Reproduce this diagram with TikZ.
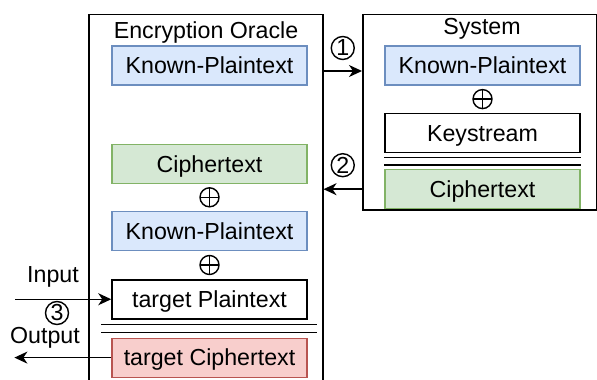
\documentclass[tikz,border=0pt]{standalone}
\usepackage{fontspec}
\setmainfont{Liberation Sans}
\usetikzlibrary{arrows.meta,positioning,calc}

\definecolor{blueFill}{HTML}{DAE8FC}
\definecolor{blueLine}{HTML}{6C8EBF}
\definecolor{greenFill}{HTML}{D5E8D4}
\definecolor{greenLine}{HTML}{82B366}
\definecolor{redFill}{HTML}{F8CECC}
\definecolor{redLine}{HTML}{B85450}

\tikzset{
  block/.style={draw, line width=0.6pt, minimum width=97.5pt, minimum height=19.5pt,
    inner sep=0pt, text height=8.3pt, text depth=0pt},
  plain/.style={block, draw=black, line width=0.75pt},
  known/.style={block, draw=blueLine, fill=blueFill},
  cipher/.style={block, draw=greenLine, fill=greenFill},
  target/.style={block, draw=redLine, fill=redFill},
  xor/.style={draw, circle, line width=0.7pt, inner sep=0pt, minimum size=9.5pt,
    path picture={\draw[line width=0.7pt]
      (path picture bounding box.north) -- (path picture bounding box.south)
      (path picture bounding box.west) -- (path picture bounding box.east);}},
  num/.style={draw, circle, line width=0.7pt, inner sep=0pt, minimum size=11.5pt},
  frame/.style={draw, line width=0.75pt, inner sep=0pt},
  arr/.style={line width=0.75pt, -{Stealth[length=6.5pt,width=6pt,inset=2pt]}},
  eqline/.style={double, line width=0.65pt, double distance=3.3pt},
}

\begin{document}
\begin{tikzpicture}[x=0.5pt,y=-0.5pt,font=\fontsize{11.6pt}{14pt}\selectfont]
      \useasboundingbox (0,0) rectangle (597,379);

      % frames
      \node[frame, anchor=north west, minimum width=117pt, minimum height=200pt] (oracle) at (88,14) {};
      \node[frame, anchor=north west, minimum width=117pt, minimum height=97.5pt] (system) at (362,14) {};
      \node[anchor=base] (otitle) at (206,39) {Encryption Oracle};
      \node[anchor=base] (stitle) at (482,35) {System};

      % oracle side
      \node[known] (okp) at (209.5,65.5) {Known-Plaintext};
      \node[cipher, below=29pt of okp] (oct) {Ciphertext};
      \node[known, below=13.5pt of oct] (okp2) {Known-Plaintext};
      \node[plain, below=14pt of okp2] (opt) {target Plaintext};
      \node[target, below=9pt of opt] (oc) {target Ciphertext};
      \node[xor] (ox1) at ($(oct.south)!0.5!(okp2.north)$) {};
      \node[xor] (ox2) at ($(okp2.south)!0.5!(opt.north)$) {};

      % system side
      \node[known] (skp) at (482.5,65.5) {Known-Plaintext};
      \node[plain, below=13.5pt of skp] (sks) {Keystream};
      \node[cipher, below=8pt of sks] (sct) {Ciphertext};
      \node[xor] (sx) at ($(skp.south)!0.5!(sks.north)$) {};

      \draw[eqline] ($(opt.south west)!0.5!(oc.north west)+(-10,0)$) -- ($(opt.south east)!0.5!(oc.north east)+(9,0)$);
      \draw[eqline] ($(sks.south west)!0.5!(sct.north west)$) -- ($(sks.south east)!0.5!(sct.north east)$);

      % queries
      \coordinate (q1) at ($(oracle.east |- okp)+(0,5.5)$);
      \coordinate (q2) at ($(system.west |- okp)+(0,5.5)$);
      \draw[arr] (q1) -- (q2);
      \draw[arr] (sct -| system.west) -- (sct -| oracle.east);
      \node[num] (n1) at ($(q1)!0.5!(q2)+(0,-23)$) {1};
      \node[num] (n2) at ($(sct -| oracle.east)!0.5!(sct -| system.west)+(0,-24)$) {2};

      % input / output
      \coordinate (inp) at ($(opt.west)+(-96,0)$);
      \coordinate (outp) at ($(oc.west)+(-97,0)$);
      \draw[arr] (inp) -- (opt);
      \draw[arr] (oc) -- (outp);
      \node[anchor=base] (lin) at (53,282) {Input};
      \node[anchor=base] (lout) at (45,343) {Output};
      \node[num] (n3) at (57,313) {3};
\end{tikzpicture}
\end{document}
